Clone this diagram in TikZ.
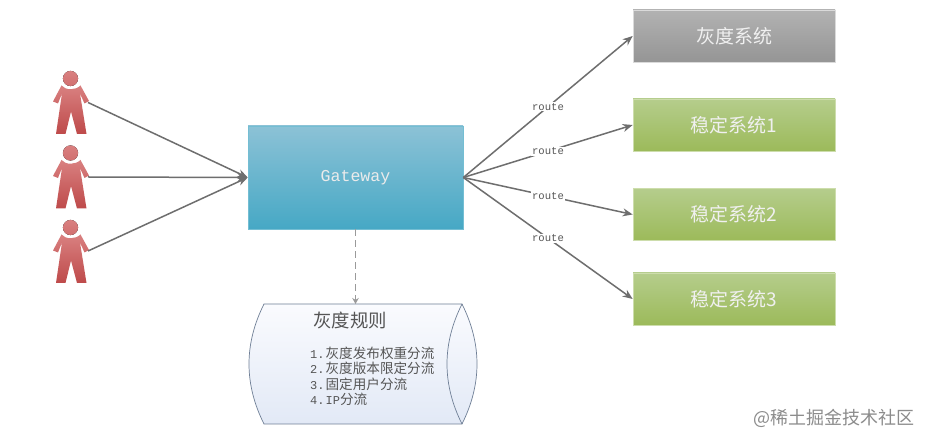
\documentclass[tikz,border=0pt]{standalone}
\usepackage{fontspec}
\setmainfont{Noto Sans CJK SC}
\newfontfamily\monof{Liberation Mono}
\usetikzlibrary{arrows.meta}
\definecolor{linegray}{HTML}{6E6E6E}
\definecolor{dashgray}{HTML}{9A9A9A}
\definecolor{txtgray}{HTML}{555555}
\definecolor{sysgrayT}{HTML}{B2B2B2}
\definecolor{sysgrayB}{HTML}{959595}
\definecolor{sysgreenT}{HTML}{B5CD8C}
\definecolor{sysgreenB}{HTML}{9CBA5A}
\definecolor{gateT}{HTML}{8CC2D6}
\definecolor{gateB}{HTML}{46A8C5}
\definecolor{bodyT}{HTML}{D98080}
\definecolor{bodyB}{HTML}{BE4A4A}
\definecolor{cylT}{HTML}{FAFBFE}
\definecolor{cylB}{HTML}{E2E9F6}
\definecolor{cylLine}{HTML}{6F7F96}
\tikzset{
  sysbox/.style={minimum width=202pt,minimum height=52pt,inner sep=0pt,text=white!94!black,font=\fontsize{19}{22}\selectfont},
  graybox/.style={sysbox,top color=sysgrayT,bottom color=sysgrayB,draw=sysgrayB!35!white,line width=.6pt},
  greenbox/.style={sysbox,top color=sysgreenT,bottom color=sysgreenB,draw=sysgreenB!50!white,line width=.6pt},
  flow/.style={draw=linegray,line width=1.5pt,-{Stealth[length=10pt,width=8pt]}},
  routelabel/.style={fill=white,inner sep=1pt,text=txtgray,font=\monof\fontsize{10.6}{12}\selectfont,midway},
  pics/person/.style={code={
    \fill[top color=bodyT,bottom color=bodyT!70!bodyB] (0,0) circle[radius=7.6pt];
    \path[top color=bodyT,bottom color=bodyB]
      (-9,7) .. controls (-5,12) and (5,12) .. (10,7)
      -- (18.5,22.5) -- (14,25) -- (9.5,15) -- (16,55.5) -- (6.5,55.5)
      -- (.5,33) -- (-5,55.5) -- (-14.5,55.5) -- (-8.5,15) -- (-12.5,25) -- (-17.5,23) -- cycle;
  }}
}
\begin{document}
\begin{tikzpicture}[x=1pt,y=-1pt]
\useasboundingbox (0,0) rectangle (930,443);
\fill[white] (0,0) rectangle (930,443);
% users
\pic at (70.5,78.5) {person};
\pic at (70.5,153) {person};
\pic at (70.5,227.5) {person};
\coordinate (u1) at (88,102.5);
\coordinate (u2) at (88,177);
\coordinate (u3) at (88,251);
% gateway
\node[minimum width=215pt,minimum height=103pt,inner sep=0pt,top color=gateT,bottom color=gateB,draw=gateB!75!white,line width=.6pt,text=white!92!black,font=\monof\fontsize{16.6}{18}\selectfont] (gateway) at (355.5,177.5) {\raisebox{-1pt}{Gateway}};
% systems
\node[graybox] (gray) at (734,36) {灰度系统};
\node[greenbox] (s1) at (734,125) {稳定系统1};
\node[greenbox] (s2) at (734,214.5) {稳定系统2};
\node[greenbox] (s3) at (734,299) {稳定系统3};
% connectors
\draw[flow] (u1) -- (gateway.west);
\draw[flow] (u2) -- (gateway.west);
\draw[flow] (u3) -- (gateway.west);
\draw[flow] (gateway.east) -- node[routelabel] (r0) {route} (gray.west);
\draw[flow] (gateway.east) -- node[routelabel] (r1) {route} (s1.west);
\draw[flow] (gateway.east) -- node[routelabel] (r2) {route} (s2.west);
\draw[flow] (gateway.east) -- node[routelabel] (r3) {route} (s3.west);
% rule cylinder
\path[top color=cylT,bottom color=cylB,draw=cylLine,line width=.7pt]
  (264,304) -- (462,304) .. controls (482,344) and (482,384) .. (462,424)
  -- (264,424) .. controls (244,384) and (244,344) .. (264,304) -- cycle;
\draw[cylLine,line width=.7pt] (462,304) .. controls (442,344) and (442,384) .. (462,424);
\coordinate (ruletop) at (355.5,304);
\draw[draw=dashgray,line width=1.4pt,dash pattern=on 7pt off 4pt,-{Stealth[length=6pt,width=6.5pt]}] (gateway.south) -- (ruletop);
\node[anchor=west,inner sep=0pt,text=txtgray,font=\fontsize{18.4}{20}\selectfont] (ruletitle) at (313,320.5) {灰度规则};
\node[anchor=north west,inner sep=0pt,align=left,text=txtgray,font=\fontsize{13.6}{15.5}\selectfont] (rulelist) at (310,346.5) {%
  {\monof\fontsize{12}{15.5}\selectfont 1.}\hspace{1pt}灰度发布权重分流\\
  {\monof\fontsize{12}{15.5}\selectfont 2.}\hspace{1pt}灰度版本限定分流\\
  {\monof\fontsize{12}{15.5}\selectfont 3.}\hspace{1pt}固定用户分流\\
  {\monof\fontsize{12}{15.5}\selectfont 4.}\hspace{1pt}{\monof\fontsize{12}{15.5}\selectfont IP}分流};
% watermark
\node[anchor=east,inner sep=0pt,text=black!45,font=\fontsize{18}{20}\selectfont] (mark) at (915,418) {@稀土掘金技术社区};
\end{tikzpicture}
\end{document}
